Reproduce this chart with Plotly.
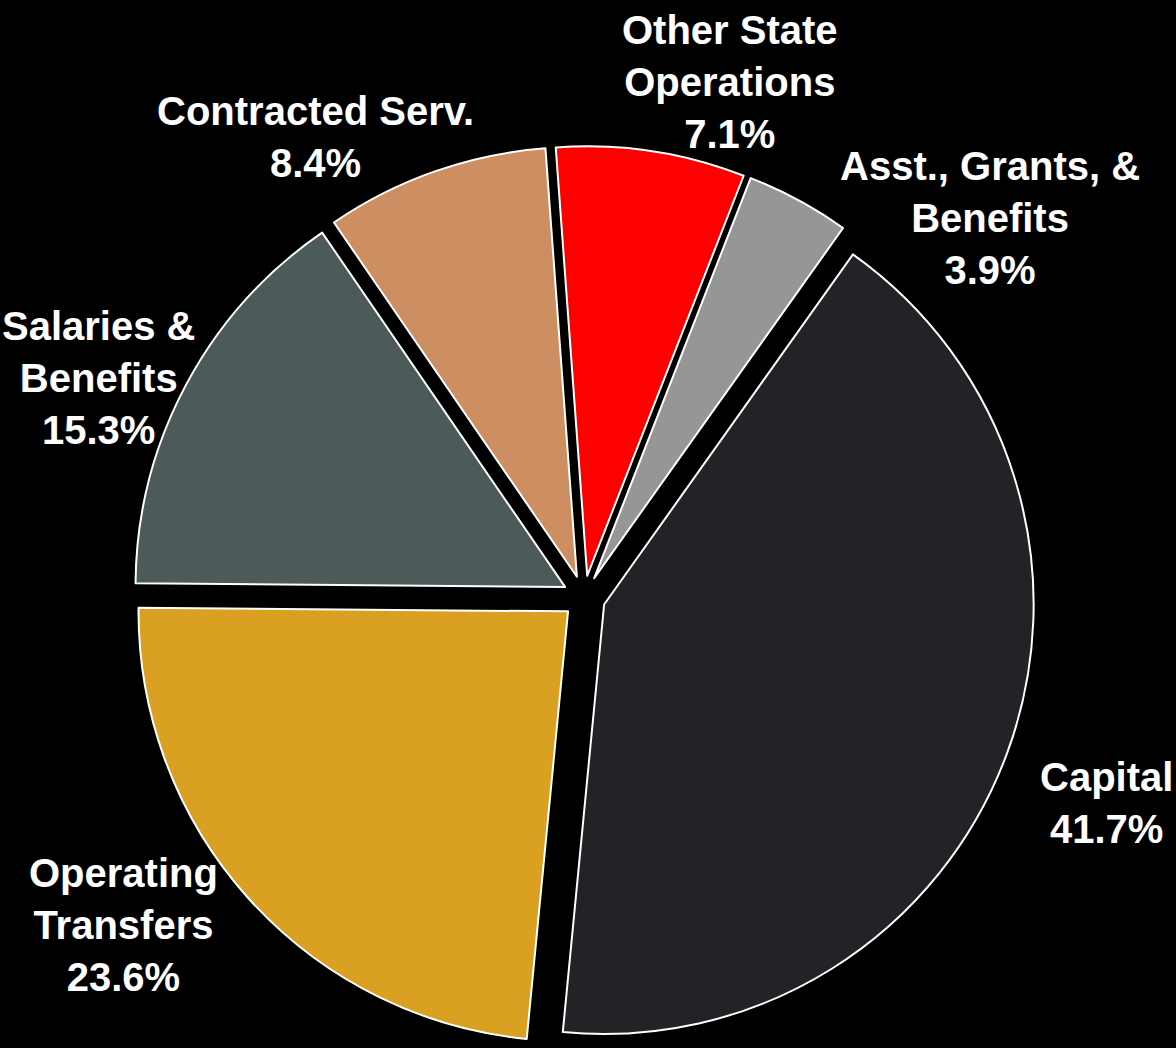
import plotly.graph_objects as go

labels = ["Capital", "Operating<br>Transfers", "Salaries &<br>Benefits",
          "Contracted Serv.", "Other State<br>Operations", "Asst., Grants, &<br>Benefits"]
values = [41.7, 23.6, 15.3, 8.4, 7.1, 3.9]
colors = ["#222326", "#DAA021", "#4D5A5A", "#CD8E62", "#FF0000", "#969696"]

W, H = 1176, 1048
M = dict(l=0, r=8, t=146, b=0)
PW = W - M["l"] - M["r"]
PH = H - M["t"] - M["b"]

# label centre positions in pixels (layout only)
label_pos = [(1106, 803), (123, 925), (98, 378), (315, 137), (730, 82), (990, 218)]

fig = go.Figure(go.Pie(
    labels=labels,
    values=values,
    sort=False,
    direction="clockwise",
    rotation=35.4,
    pull=[0.05] * len(values),
    marker=dict(colors=colors, line=dict(color="white", width=2)),
    textinfo="none",
    showlegend=False,
    domain=dict(x=[0, 1], y=[0, 1]),
))

total = sum(values)
for lab, val, (px, py) in zip(labels, values, label_pos):
    fig.add_annotation(
        x=(px - M["l"]) / PW, y=1 - (py - M["t"]) / PH,
        xref="paper", yref="paper",
        xanchor="center", yanchor="middle", align="center",
        text=f"{lab}<br>{val / total * 100:.1f}%",
        showarrow=False,
        font=dict(family="Liberation Sans, Arial, sans-serif", size=40, color="white", weight="bold"),
    )

fig.update_layout(
    width=W, height=H,
    paper_bgcolor="black", plot_bgcolor="black",
    margin=M,
)

fig.write_html("out.html")
